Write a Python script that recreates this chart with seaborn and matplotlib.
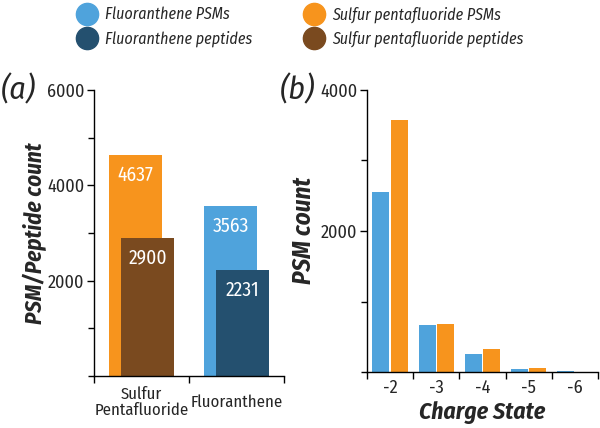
import matplotlib
matplotlib.use("Agg")
import matplotlib.pyplot as plt
from matplotlib.lines import Line2D
from matplotlib.ticker import FixedLocator
import seaborn as sns
import pandas as pd

# ---- data ----
compounds = ["Sulfur\nPentafluoride", "Fluoranthene"]
psm_totals = [4637, 3563]
peptide_totals = [2900, 2231]

charge_states = ["-2", "-3", "-4", "-5", "-6"]
fluor_psms = [2560, 667, 251, 47, 18]
sulfur_psms = [3570, 685, 331, 57, 4]

legend_labels = ["Fluoranthene PSMs", "Fluoranthene peptides",
                 "Sulfur pentafluoride PSMs", "Sulfur pentafluoride peptides"]

# ---- style ----
C_FL = "#4FA3DC"
C_FLD = "#24506F"
C_SU = "#F7941D"
C_SUD = "#7A4A1F"

sns.set_theme(style="ticks")
FONT = ["Fira Sans Condensed", "Roboto Condensed", "DejaVu Sans"]
plt.rcParams["font.family"] = FONT

fig = plt.figure(figsize=(6.0, 4.28), dpi=100)
axa = fig.add_axes([0.1567, 0.1215, 0.3167, 0.668])
axb = fig.add_axes([0.6117, 0.1308, 0.385, 0.659])

# ---- panel (a): overlapping bars ----
dfa1 = pd.DataFrame({"compound": compounds, "count": psm_totals})
dfa2 = pd.DataFrame({"compound": compounds, "count": peptide_totals})
sns.barplot(data=dfa1, x="compound", y="count", hue="compound",
            palette=[C_SU, C_FL], width=0.55, legend=False, ax=axa,
            saturation=1, edgecolor="none")
n1 = len(axa.patches)
for p in axa.patches:
    p.set_x(p.get_x() - 0.063)
sns.barplot(data=dfa2, x="compound", y="count", hue="compound",
            palette=[C_SUD, C_FLD], width=0.55, legend=False, ax=axa,
            saturation=1, edgecolor="none")
for p in axa.patches[n1:]:
    p.set_x(p.get_x() + 0.063)
for p in axa.patches:
    h = p.get_height()
    axa.annotate(f"{int(round(h))}", (p.get_x() + p.get_width() / 2, h),
                 xytext=(0, -14.5), textcoords="offset points",
                 ha="center", va="center", color="white", fontsize=14)

axa.set_xlim(-0.5, 1.5)
axa.set_ylim(0, 6000)
axa.set_yticks([2000, 4000, 6000])
axa.yaxis.set_minor_locator(FixedLocator([0, 1000, 3000, 5000]))
axa.xaxis.set_major_locator(FixedLocator([0, 1]))
axa.set_xticklabels(compounds, fontsize=12, linespacing=1.0)
for lbl in axa.get_xticklabels():
    lbl.set_va("center")
axa.xaxis.set_minor_locator(FixedLocator([-0.5, 0.5, 1.5]))
axa.tick_params(axis="x", which="major", length=0, pad=19)
axa.tick_params(axis="x", which="minor", length=5, width=1, color="black")
axa.tick_params(axis="y", which="major", length=5, width=1, color="black",
                labelsize=13, pad=2)
axa.tick_params(axis="y", which="minor", length=4, width=1, color="black")
axa.set_xlabel("")
axa.set_ylabel("PSM/Peptide count", fontsize=16.5, fontweight="bold",
               fontstyle="italic", labelpad=0)
sns.despine(ax=axa)
for s in ["left", "bottom"]:
    axa.spines[s].set_color("black")
    axa.spines[s].set_linewidth(1)

# ---- panel (b): grouped bars ----
dfb = pd.DataFrame({
    "charge": charge_states * 2,
    "count": fluor_psms + sulfur_psms,
    "series": ["Fluoranthene PSMs"] * 5 + ["Sulfur pentafluoride PSMs"] * 5,
})
sns.barplot(data=dfb, x="charge", y="count", hue="series",
            palette=[C_FL, C_SU], width=0.8, gap=0.08, legend=False, ax=axb,
            saturation=1, edgecolor="none")
axb.set_xlim(-0.5, 4.5)
axb.set_ylim(0, 4000)
axb.set_yticks([2000, 4000])
axb.yaxis.set_minor_locator(FixedLocator([0, 1000, 3000]))
axb.xaxis.set_minor_locator(FixedLocator([-0.5, 0.5, 1.5, 2.5, 3.5, 4.5]))
axb.tick_params(axis="x", which="major", length=0, labelsize=13, pad=5)
axb.tick_params(axis="x", which="minor", length=5, width=1, color="black")
axb.tick_params(axis="y", which="major", length=5, width=1, color="black",
                labelsize=13, pad=2)
axb.tick_params(axis="y", which="minor", length=4, width=1, color="black")
axb.set_xlabel("Charge State", fontsize=17, fontweight="bold",
               fontstyle="italic", labelpad=3)
axb.set_ylabel("PSM count", fontsize=18, fontweight="bold",
               fontstyle="italic", labelpad=3)
sns.despine(ax=axb)
for s in ["left", "bottom"]:
    axb.spines[s].set_color("black")
    axb.spines[s].set_linewidth(1)

# ---- panel letters ----
fig.text(0.002, 0.790, "(a)", fontsize=23, fontstyle="italic", va="center")
fig.text(0.466, 0.790, "(b)", fontsize=23, fontstyle="italic", va="center")

# ---- legend ----
colors = [C_FL, C_FLD, C_SU, C_SUD]
handles = [Line2D([], [], marker="o", linestyle="none", markersize=16,
                  markerfacecolor=c, markeredgecolor=c) for c in colors]
fig.legend(handles, legend_labels, loc="upper left",
           bbox_to_anchor=(0.129, 0.985), ncol=2, frameon=False,
           prop={"size": 11.5, "style": "italic"}, handlelength=1.2,
           handletextpad=0.5, columnspacing=3.3, labelspacing=0.5,
           borderaxespad=0, borderpad=0)

fig.savefig("out.png", dpi=100)
